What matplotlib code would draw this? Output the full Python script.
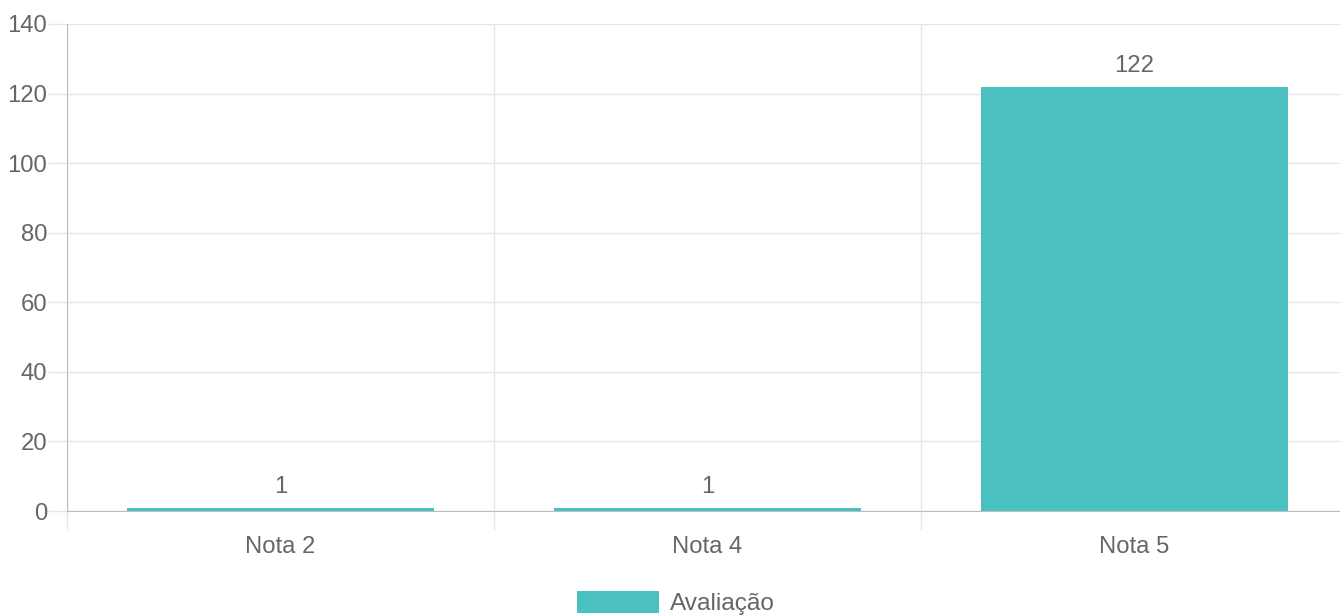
import matplotlib
matplotlib.use("Agg")
import matplotlib.pyplot as plt
import numpy as np

categories = ["Nota 2", "Nota 4", "Nota 5"]
values = [1, 1, 122]
series_label = "Avaliação"
yticks = [0, 20, 40, 60, 80, 100, 120, 140]

BAR = "#4BC0C0"
TXT = "#666666"
GRID = "#e6e6e6"
AXIS = "#bdbdbd"
FS = 17.2
PT = 72 / 100  # points per pixel

plt.rcParams['font.family'] = ['Liberation Sans', 'DejaVu Sans']

fig = plt.figure(figsize=(13.4, 6.15), dpi=100)
W, H = 1340, 615
ax = fig.add_axes([67 / W, 104 / H, (1348 - 67) / W, (511 - 24) / H])

x = np.arange(len(categories))
bars = ax.bar(x, values, width=0.72, color=BAR, label=series_label, zorder=3)

ax.set_xlim(-0.5, len(categories) - 0.5)
ax.set_ylim(0, 140)
ax.set_yticks(yticks)
ax.set_yticklabels([str(v) for v in yticks])
ax.set_xticks(x)
ax.set_xticklabels(categories)
ax.set_xticks(np.arange(-0.5, len(categories) + 0.5, 1.0), minor=True)

ax.tick_params(axis='y', length=19 * PT, width=1, color=GRID, labelcolor=TXT, labelsize=FS, pad=1 * PT)
ax.tick_params(axis='x', which='major', length=0, labelcolor=TXT, labelsize=FS, pad=25 * PT)
ax.tick_params(axis='x', which='minor', length=19 * PT, width=1, color=GRID)

ax.grid(axis='y', color=GRID, linewidth=1, zorder=0)
ax.grid(axis='x', which='minor', color=GRID, linewidth=1, zorder=0)
ax.grid(axis='x', which='major', visible=False)

for s in ['top', 'right']:
    ax.spines[s].set_visible(False)
ax.spines['left'].set_color(AXIS)
ax.spines['bottom'].set_color(AXIS)
ax.spines['left'].set_zorder(4)
ax.spines['bottom'].set_zorder(4)

for rect, v in zip(bars, values):
    ax.annotate(str(v), (rect.get_x() + rect.get_width() / 2, v),
                xytext=(0, 10), textcoords='offset pixels',
                ha='center', va='bottom', color=TXT, fontsize=FS)

fig.legend(handles=[bars], labels=[series_label], loc='lower center',
           bbox_to_anchor=(0.5 + 6 / W, -0.022), frameon=False, fontsize=FS * 1.02,
           labelcolor=TXT, handlelength=3.35, handleheight=1.0,
           handletextpad=0.45, borderpad=0.05)

fig.savefig("out.png", dpi=100, facecolor="white")
